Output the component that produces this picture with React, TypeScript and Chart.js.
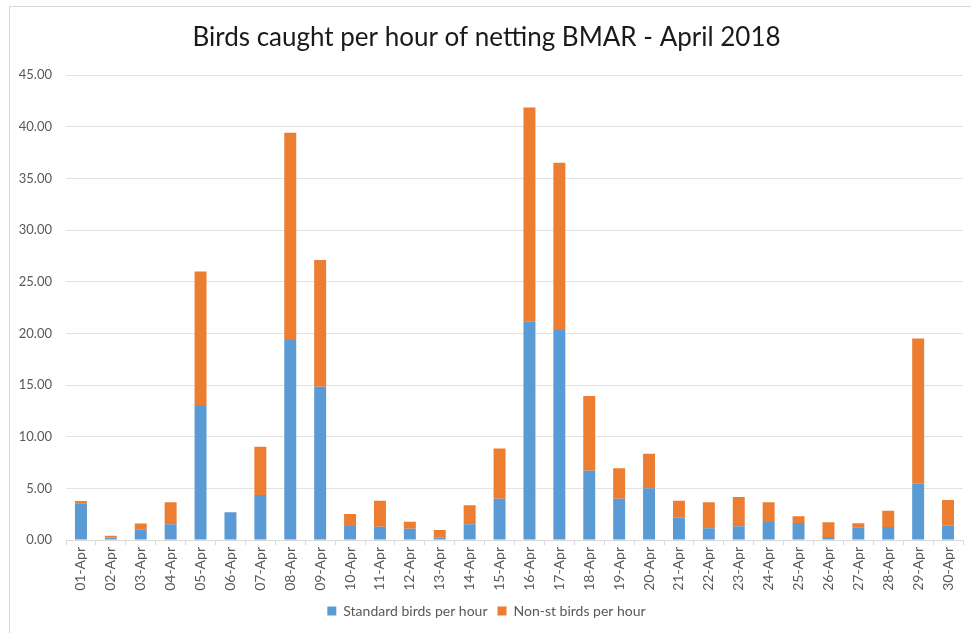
import React, { useEffect, useRef } from "react";
import { Chart, registerables } from "chart.js";

Chart.register(...registerables);

const categories = [
  "01-Apr", "02-Apr", "03-Apr", "04-Apr", "05-Apr", "06-Apr", "07-Apr", "08-Apr", "09-Apr", "10-Apr",
  "11-Apr", "12-Apr", "13-Apr", "14-Apr", "15-Apr", "16-Apr", "17-Apr", "18-Apr", "19-Apr", "20-Apr",
  "21-Apr", "22-Apr", "23-Apr", "24-Apr", "25-Apr", "26-Apr", "27-Apr", "28-Apr", "29-Apr", "30-Apr",
];

const standardBirds = [
  3.55, 0.25, 1.0, 1.52, 13.07, 2.68, 4.35, 19.36, 14.84, 1.36,
  1.29, 1.1, 0.23, 1.52, 4.0, 21.13, 20.33, 6.71, 4.0, 5.0,
  2.16, 1.13, 1.32, 1.74, 1.65, 0.29, 1.19, 1.26, 5.45, 1.39,
];

const nonStandardBirds = [
  0.23, 0.15, 0.6, 2.13, 12.93, 0, 4.68, 20.07, 12.26, 1.16,
  2.52, 0.67, 0.74, 1.84, 4.87, 20.75, 16.2, 7.23, 2.94, 3.36,
  1.65, 2.52, 2.84, 1.91, 0.64, 1.42, 0.42, 1.58, 14.07, 2.48,
];

const seriesNames = ["Standard birds per hour", "Non-st birds per hour"];
const titleText = "Birds caught per hour of netting BMAR - April 2018";

const FONT = "Lato, 'Open Sans', sans-serif";

export default function App() {
  const ref = useRef<HTMLCanvasElement | null>(null);

  useEffect(() => {
    if (!ref.current) return;
    const chart = new Chart(ref.current, {
      type: "bar",
      data: {
        labels: categories,
        datasets: [
          {
            label: seriesNames[0],
            data: standardBirds,
            backgroundColor: "#5B9BD5",
            barPercentage: 0.4,
            categoryPercentage: 1,
          },
          {
            label: seriesNames[1],
            data: nonStandardBirds,
            backgroundColor: "#ED7D31",
            barPercentage: 0.4,
            categoryPercentage: 1,
          },
        ],
      },
      options: {
        animation: false,
        responsive: false,
        maintainAspectRatio: false,
        layout: { padding: { left: 10, right: 8, top: 0, bottom: 5 } },
        plugins: {
          title: {
            display: true,
            text: titleText,
            color: "#1a1a1a",
            font: { family: FONT, size: 26, weight: "normal" },
            padding: { top: 22, bottom: 22 },
          },
          legend: {
            position: "bottom",
            labels: {
              boxWidth: 9,
              boxHeight: 9,
              color: "#595959",
              font: { family: FONT, size: 14 },
              padding: 10,
            },
          },
          tooltip: { enabled: false },
        },
        scales: {
          x: {
            stacked: true,
            afterFit: (s: any) => {
              s.height = 54;
            },
            grid: {
              drawOnChartArea: false,
              drawTicks: true,
              tickLength: 5,
              color: "#d9d9d9",
              offset: true,
            },
            border: { color: "#d9d9d9" },
            ticks: {
              minRotation: 90,
              maxRotation: 90,
              autoSkip: false,
              color: "#595959",
              font: { family: FONT, size: 14 },
              padding: 2,
            },
          },
          y: {
            stacked: true,
            min: 0,
            max: 45,
            afterFit: (s: any) => {
              s.width = 56;
            },
            grid: { color: "#e3e3e3", drawTicks: false },
            border: { display: false },
            ticks: {
              stepSize: 5,
              color: "#595959",
              font: { family: FONT, size: 13 },
              padding: 14,
              callback: (v: any) => Number(v).toFixed(2),
            },
          },
        },
      },
    });
    return () => chart.destroy();
  }, []);

  return (
    <div
      style={{
        position: "fixed",
        left: 0,
        top: 0,
        width: 971,
        height: 633,
        overflow: "hidden",
        background: "#ffffff",
      }}
    >
      <div
        style={{
          position: "absolute",
          left: 9,
          top: 6,
          width: 980,
          height: 640,
          border: "1px solid #d9d9d9",
          boxSizing: "border-box",
        }}
      />
      <canvas
        ref={ref}
        width={971}
        height={633}
        style={{ position: "absolute", left: 0, top: 0, width: 971, height: 633 }}
      />
    </div>
  );
}
